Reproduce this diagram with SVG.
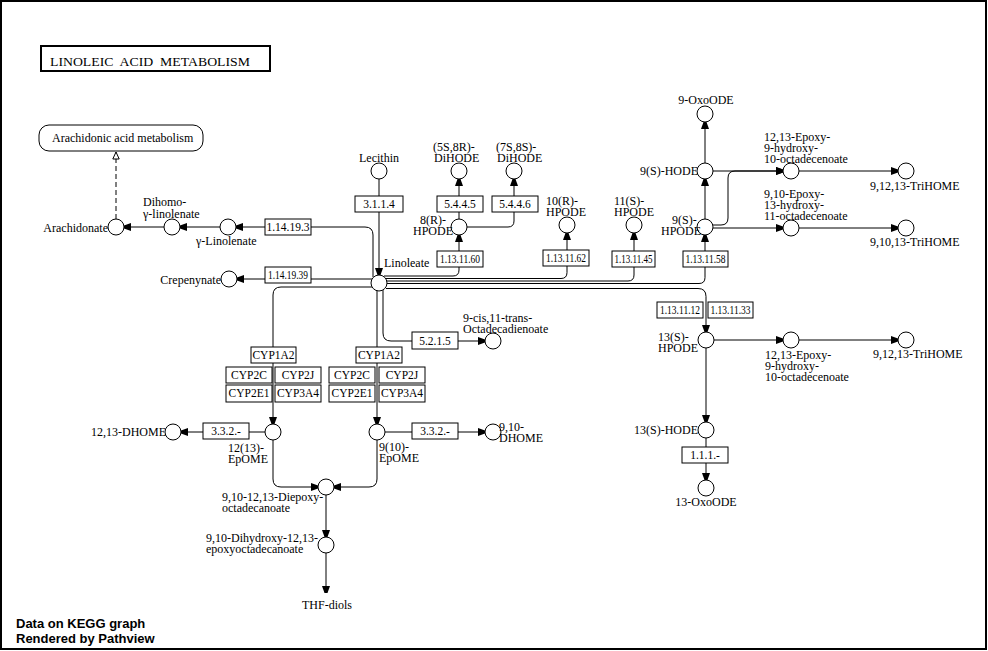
<svg xmlns="http://www.w3.org/2000/svg" width="988" height="651" viewBox="0 0 988 651">
<defs>
<style>
text{font-family:"Liberation Serif","Times New Roman",serif;font-size:12px;fill:#000}
.n circle{fill:#fff;stroke:#000;stroke-width:1}
.e rect{fill:#fff;stroke:#000;stroke-width:1}
.e text{font-size:11.5px;text-anchor:middle}
.m{text-anchor:middle}
.r{text-anchor:end}
#connectors path{fill:none;stroke:#000;stroke-width:1}
#connectors .d{stroke-dasharray:5,3}
.foot{font-family:"Liberation Sans",Arial,sans-serif;font-weight:bold;font-size:13px}
</style>
<marker id="a" viewBox="0 0 7 8" refX="7" refY="4" markerWidth="7" markerHeight="8" markerUnits="userSpaceOnUse" orient="auto"><path d="M0,0 L7,2.5 L7,5.5 L0,8 z" fill="#000"/></marker>
<marker id="o" viewBox="0 0 8 8" refX="7.5" refY="4" markerWidth="8" markerHeight="8" markerUnits="userSpaceOnUse" orient="auto"><path d="M0.5,0.8 L7.5,4 L0.5,7.2 z" fill="#fff" stroke="#000" stroke-width="1"/></marker>
</defs>
<rect x="1" y="1" width="985" height="648" fill="#fff" stroke="#000" stroke-width="2"/>
<g id="title"><rect x="41" y="46" width="229" height="25" fill="#fff" stroke="#000" stroke-width="2"/><text x="50" y="66" font-size="14" xml:space="preserve" textLength="200" lengthAdjust="spacingAndGlyphs">LINOLEIC  ACID  METABOLISM</text></g>

<g id="connectors">
<path d="M373,277 V235 Q373,227 365,227 H236" marker-end="url(#a)"/>
<path d="M220,227 H180" marker-end="url(#a)"/>
<path d="M164,227 H124" marker-end="url(#a)"/>
<path class="d" d="M116,219 V152" marker-end="url(#o)"/>
<path d="M372,279 H237" marker-end="url(#a)"/>
<path d="M379,179 V275" marker-end="url(#a)"/>
<path d="M384,276 H453 Q459,276 459,270 V235" marker-end="url(#a)"/>
<path d="M459,219 V179" marker-end="url(#a)"/>
<path d="M467,227 H508 Q514,227 514,221 V179" marker-end="url(#a)"/>
<path d="M385,278.5 H561 Q567,278.5 567,272.5 V233" marker-end="url(#a)"/>
<path d="M386,281 H628 Q634,281 634,275 V233" marker-end="url(#a)"/>
<path d="M387,283.5 H699 Q705,283.5 705,277.5 V235" marker-end="url(#a)"/>
<path d="M386,288.5 H698 Q706,288.5 706,296.5 V332" marker-end="url(#a)"/>
<path d="M705,219 V179" marker-end="url(#a)"/>
<path d="M705,163 V122" marker-end="url(#a)"/>
<path d="M713,171 H783" marker-end="url(#a)"/>
<path d="M713,225 H721 Q728,225 728,218 V178 Q728,171 735,171 H783" marker-end="url(#a)"/>
<path d="M713,228 H783" marker-end="url(#a)"/>
<path d="M799,171 H898" marker-end="url(#a)"/>
<path d="M799,228 H898" marker-end="url(#a)"/>
<path d="M714,340 H783" marker-end="url(#a)"/>
<path d="M799,340 H898" marker-end="url(#a)"/>
<path d="M706,348 V422" marker-end="url(#a)"/>
<path d="M706,438 V480" marker-end="url(#a)"/>
<path d="M377,290 V424" marker-end="url(#a)"/>
<path d="M383,290 V333 Q383,341 391,341 H485" marker-end="url(#a)"/>
<path d="M372,287 H281 Q273,287 273,295 V424" marker-end="url(#a)"/>
<path d="M265,432 H181" marker-end="url(#a)"/>
<path d="M385,432 H485" marker-end="url(#a)"/>
<path d="M273,440 V479 Q273,487 281,487 H318" marker-end="url(#a)"/>
<path d="M377,440 V479 Q377,487 369,487 H334" marker-end="url(#a)"/>
<path d="M326,495 V537" marker-end="url(#a)"/>
<path d="M326,553 V593" marker-end="url(#a)"/>
</g>

<g id="map-arachidonic" class="n"><rect x="39" y="125" width="164" height="26" rx="10" fill="#fff" stroke="#000"/><text x="52" y="142">Arachidonic acid metabolism</text></g>

<g id="e-1.14.19.3" class="e"><rect x="265" y="219" width="46" height="16"/><text x="288" y="231">1.14.19.3</text></g>
<g id="e-1.14.19.39" class="e"><rect x="265" y="267" width="46" height="16"/><text x="288" y="279" textLength="40" lengthAdjust="spacingAndGlyphs">1.14.19.39</text></g>
<g id="e-3.1.1.4" class="e"><rect x="355" y="196" width="48" height="16"/><text x="379" y="208">3.1.1.4</text></g>
<g id="e-5.4.4.5" class="e"><rect x="437" y="196" width="46" height="16"/><text x="460" y="208">5.4.4.5</text></g>
<g id="e-5.4.4.6" class="e"><rect x="492" y="196" width="46" height="16"/><text x="515" y="208">5.4.4.6</text></g>
<g id="e-1.13.11.60" class="e"><rect x="437" y="251" width="46" height="16"/><text x="460" y="263" textLength="40" lengthAdjust="spacingAndGlyphs">1.13.11.60</text></g>
<g id="e-1.13.11.62" class="e"><rect x="543" y="250" width="46" height="16"/><text x="566" y="262" textLength="40" lengthAdjust="spacingAndGlyphs">1.13.11.62</text></g>
<g id="e-1.13.11.45" class="e"><rect x="612" y="251" width="43" height="16"/><text x="633.5" y="263" textLength="38" lengthAdjust="spacingAndGlyphs">1.13.11.45</text></g>
<g id="e-1.13.11.58" class="e"><rect x="683" y="251" width="45" height="16"/><text x="705.5" y="263" textLength="40" lengthAdjust="spacingAndGlyphs">1.13.11.58</text></g>
<g id="e-1.13.11.12" class="e"><rect x="657" y="302" width="46" height="16"/><text x="680" y="314" textLength="40" lengthAdjust="spacingAndGlyphs">1.13.11.12</text></g>
<g id="e-1.13.11.33" class="e"><rect x="708" y="302" width="45" height="16"/><text x="730.5" y="314" textLength="40" lengthAdjust="spacingAndGlyphs">1.13.11.33</text></g>
<g id="e-1.1.1.-" class="e"><rect x="682" y="447" width="46" height="16"/><text x="705" y="459">1.1.1.-</text></g>
<g id="e-5.2.1.5" class="e"><rect x="412" y="332" width="46" height="17"/><text x="435" y="345">5.2.1.5</text></g>
<g id="e-cyp1a2-l" class="e"><rect x="251" y="347" width="45" height="16"/><text x="273.5" y="359">CYP1A2</text></g>
<g id="e-cyp2c-l" class="e"><rect x="226" y="367" width="46" height="16"/><text x="249" y="379">CYP2C</text></g>
<g id="e-cyp2j-l" class="e"><rect x="275" y="367" width="46" height="16"/><text x="298" y="379">CYP2J</text></g>
<g id="e-cyp2e1-l" class="e"><rect x="226" y="385" width="46" height="17"/><text x="249" y="397">CYP2E1</text></g>
<g id="e-cyp3a4-l" class="e"><rect x="275" y="385" width="46" height="17"/><text x="298" y="397">CYP3A4</text></g>
<g id="e-cyp1a2-r" class="e"><rect x="356" y="347" width="46" height="16"/><text x="379" y="359">CYP1A2</text></g>
<g id="e-cyp2c-r" class="e"><rect x="329" y="367" width="46" height="16"/><text x="352" y="379">CYP2C</text></g>
<g id="e-cyp2j-r" class="e"><rect x="379" y="367" width="46" height="16"/><text x="402" y="379">CYP2J</text></g>
<g id="e-cyp2e1-r" class="e"><rect x="329" y="385" width="46" height="17"/><text x="352" y="397">CYP2E1</text></g>
<g id="e-cyp3a4-r" class="e"><rect x="379" y="385" width="46" height="17"/><text x="402" y="397">CYP3A4</text></g>
<g id="e-3.3.2.-l" class="e"><rect x="203" y="423" width="46" height="16"/><text x="226" y="435">3.3.2.-</text></g>
<g id="e-3.3.2.-r" class="e"><rect x="412" y="423" width="46" height="16"/><text x="435" y="435">3.3.2.-</text></g>

<g id="arachidonate" class="n"><circle cx="116" cy="227" r="8"/><text class="r" x="108" y="232">Arachidonate</text></g>
<g id="dihomo-linolenate" class="n"><circle cx="172" cy="227" r="8"/><text x="143" y="206">Dihomo-</text><text x="143" y="218">γ-linolenate</text></g>
<g id="g-linolenate" class="n"><circle cx="228" cy="227" r="8"/><text x="196" y="245">γ-Linolenate</text></g>
<g id="crepenynate" class="n"><circle cx="229" cy="279" r="8"/><text class="r" x="221" y="284">Crepenynate</text></g>
<g id="lecithin" class="n"><circle cx="379" cy="171" r="8"/><text class="m" x="379" y="162">Lecithin</text></g>
<g id="linoleate" class="n"><circle cx="379" cy="283" r="8"/><text x="384" y="267">Linoleate</text></g>
<g id="hpode-8r" class="n"><circle cx="459" cy="227" r="8"/><text x="420" y="224">8(R)-</text><text x="413" y="235">HPODE</text></g>
<g id="dihode-5s8r" class="n"><circle cx="459" cy="171" r="8"/><text x="433" y="151">(5S,8R)-</text><text x="434" y="162">DiHODE</text></g>
<g id="dihode-7s8s" class="n"><circle cx="514" cy="171" r="8"/><text x="496" y="151">(7S,8S)-</text><text x="497" y="162">DiHODE</text></g>
<g id="hpode-10r" class="n"><circle cx="567" cy="225" r="8"/><text x="546" y="205">10(R)-</text><text x="546" y="216">HPODE</text></g>
<g id="hpode-11s" class="n"><circle cx="634" cy="225" r="8"/><text x="614" y="205">11(S)-</text><text x="614" y="216">HPODE</text></g>
<g id="hpode-9s" class="n"><circle cx="705" cy="227" r="8"/><text x="672" y="224">9(S)-</text><text x="661" y="235">HPODE</text></g>
<g id="hode-9s" class="n"><circle cx="705" cy="171" r="8"/><text class="r" x="698" y="175">9(S)-HODE</text></g>
<g id="oxoode-9" class="n"><circle cx="705" cy="114" r="8"/><text class="m" x="706" y="104">9-OxoODE</text></g>
<g id="epoxy-1213-a" class="n"><circle cx="791" cy="171" r="8"/><text x="764" y="141">12,13-Epoxy-</text><text x="764" y="152">9-hydroxy-</text><text x="764" y="163">10-octadecenoate</text></g>
<g id="trihome-91213-a" class="n"><circle cx="906" cy="171" r="8"/><text x="870" y="190">9,12,13-TriHOME</text></g>
<g id="epoxy-910" class="n"><circle cx="791" cy="228" r="8"/><text x="764" y="198">9,10-Epoxy-</text><text x="764" y="209">13-hydroxy-</text><text x="764" y="220">11-octadecenoate</text></g>
<g id="trihome-91013" class="n"><circle cx="906" cy="228" r="8"/><text x="870" y="246">9,10,13-TriHOME</text></g>
<g id="hpode-13s" class="n"><circle cx="706" cy="340" r="8"/><text x="658" y="341">13(S)-</text><text x="658" y="352">HPODE</text></g>
<g id="epoxy-1213-b" class="n"><circle cx="791" cy="340" r="8"/><text x="765" y="359">12,13-Epoxy-</text><text x="765" y="370">9-hydroxy-</text><text x="765" y="381">10-octadecenoate</text></g>
<g id="trihome-91213-b" class="n"><circle cx="906" cy="340" r="8"/><text x="873" y="358">9,12,13-TriHOME</text></g>
<g id="hode-13s" class="n"><circle cx="706" cy="430" r="8"/><text class="r" x="698" y="434">13(S)-HODE</text></g>
<g id="oxoode-13" class="n"><circle cx="706" cy="488" r="8"/><text class="m" x="706" y="506">13-OxoODE</text></g>
<g id="octadecadienoate" class="n"><circle cx="493" cy="341" r="8"/><text x="463" y="322">9-cis,11-trans-</text><text x="463" y="333">Octadecadienoate</text></g>
<g id="epome-1213" class="n"><circle cx="273" cy="432" r="8"/><text x="228" y="452">12(13)-</text><text x="228" y="463">EpOME</text></g>
<g id="epome-910" class="n"><circle cx="377" cy="432" r="8"/><text x="379" y="451">9(10)-</text><text x="379" y="462">EpOME</text></g>
<g id="dhome-1213" class="n"><circle cx="173" cy="432" r="8"/><text class="r" x="166" y="436">12,13-DHOME</text></g>
<g id="dhome-910" class="n"><circle cx="493" cy="432" r="8"/><text x="499" y="431">9,10-</text><text x="499" y="442">DHOME</text></g>
<g id="diepoxy" class="n"><circle cx="326" cy="487" r="8"/><text x="222" y="501">9,10-12,13-Diepoxy-</text><text x="222" y="512">octadecanoate</text></g>
<g id="dihydroxy" class="n"><circle cx="326" cy="545" r="8"/><text x="206" y="542">9,10-Dihydroxy-12,13-</text><text x="206" y="553">epoxyoctadecanoate</text></g>
<g id="thf-diols"><text class="m" x="327" y="609">THF-diols</text></g>

<g id="footer"><text class="foot" x="16" y="628">Data on KEGG graph</text><text class="foot" x="16" y="643">Rendered by Pathview</text></g>
</svg>
